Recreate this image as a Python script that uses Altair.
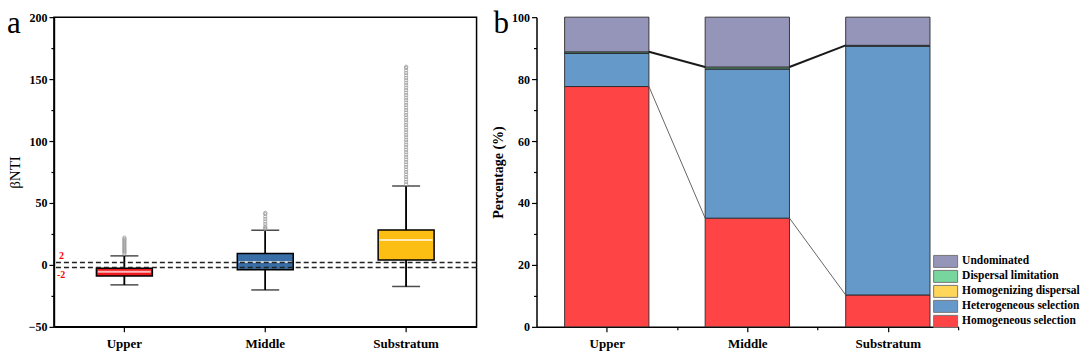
import altair as alt
import pandas as pd

FONT = "Liberation Serif"

# ---------------- Panel a : beta-NTI box plots ----------------
groups = ["Upper", "Middle", "Substratum"]
q1 = [-8.9, -4.0, 4.0]
median = [-5.6, 2.3, 20.2]
q3 = [-2.7, 9.2, 28.2]
whisker_low = [-16.1, -20.2, -17.4]
whisker_high = [7.3, 28.0, 63.7]
box_colors = ["#F01A1E", "#3A6EA6", "#FDBE14"]

outliers_upper = [9, 10, 11, 12, 13, 14, 15, 16, 17, 18, 19, 20, 21, 22]
outliers_middle = [29, 30, 31, 33, 35, 37, 39, 41, 42]
outliers_substratum = [65, 67, 69, 71, 73, 75, 77, 79, 81, 83, 85, 87, 89, 91, 93,
                       95, 97, 99, 101, 103, 105, 107, 109, 111, 113, 115, 117, 119,
                       121, 123, 125, 127, 129, 131, 133, 135, 137, 139, 141, 143,
                       145, 147, 149, 151, 153, 155, 157, 159, 160]

threshold_values = [2, -2]
threshold_labels = ["2", "-2"]

# ---------------- Panel b : stacked percentages ----------------
processes_stack = ["Homogeneous selection", "Heterogeneous selection",
                   "Homogenizing dispersal", "Dispersal limitation", "Undominated"]
homogeneous_selection = [77.6, 35.1, 10.3]
heterogeneous_selection = [10.8, 48.2, 80.4]
homogenizing_dispersal = [0.0, 0.0, 0.0]
dispersal_limitation = [0.4, 0.6, 0.2]
undominated = [11.2, 16.1, 9.1]
process_colors = {"Undominated": "#9594B9", "Dispersal limitation": "#76D69D",
                  "Homogenizing dispersal": "#FFD65A", "Heterogeneous selection": "#6599CA",
                  "Homogeneous selection": "#FF4446"}
legend_order = ["Undominated", "Dispersal limitation", "Homogenizing dispersal",
                "Heterogeneous selection", "Homogeneous selection"]

# ---------------- build tables ----------------
box_df = pd.DataFrame({"g": groups, "q1": q1, "med": median, "q3": q3,
                       "lo": whisker_low, "hi": whisker_high})
out_df = pd.DataFrame(
    [{"g": "Upper", "v": v} for v in outliers_upper]
    + [{"g": "Middle", "v": v} for v in outliers_middle]
    + [{"g": "Substratum", "v": v} for v in outliers_substratum])
thr_df = pd.DataFrame({"v": threshold_values, "t": threshold_labels})

series = [homogeneous_selection, heterogeneous_selection, homogenizing_dispersal,
          dispersal_limitation, undominated]
rows = []
cum_tables = []
for gi, g in enumerate(groups):
    base = 0.0
    cums = []
    for p, s in zip(processes_stack, series):
        rows.append({"g": g, "p": p, "x": gi + 0.2, "x2": gi + 0.8,
                     "y": base, "y2": base + s[gi]})
        base += s[gi]
        cums.append(base)
    cum_tables.append(cums)
stack_df = pd.DataFrame(rows)

conn_rows = []
for gi in range(len(groups) - 1):
    conn_rows.append({"x": gi + 0.8, "x2": gi + 1.2, "y": cum_tables[gi][0],
                      "y2": cum_tables[gi + 1][0], "k": "low"})
    conn_rows.append({"x": gi + 0.8, "x2": gi + 1.2, "y": cum_tables[gi][3],
                      "y2": cum_tables[gi + 1][3], "k": "top"})
conn_df = pd.DataFrame(conn_rows)

# ---------------- panel a ----------------
ya = alt.Scale(domain=[-50, 200], nice=False, zero=False)
xa = alt.X("g:N", sort=groups, scale=alt.Scale(paddingInner=0, paddingOuter=0),
           axis=alt.Axis(title=None, labelAngle=0, labelFont=FONT, labelFontWeight="bold",
                         labelFontSize=13, labelColor="black", tickColor="black",
                         domainColor="black", tickSize=5, tickWidth=1.2, labelPadding=6,
                         domainWidth=1.5))

main_axis_a = alt.Axis(title="βNTI", titleFont=FONT, titleFontWeight="normal", titleFontSize=15,
                       titleColor="black", labelFont=FONT, labelFontWeight="bold",
                       labelFontSize=12, labelColor="black", values=[-50, 0, 50, 100, 150, 200],
                       tickSize=5, tickWidth=1.2, tickColor="black", domainColor="black",
                       domainWidth=1.5, grid=False, orient="left", titlePadding=6)
minor_axis_a = alt.Axis(title=None, labels=False, values=[-25, 25, 75, 125, 175], tickSize=3,
                        tickWidth=1.2, tickColor="black", domain=False, grid=False, orient="left")

whisk = alt.Chart(box_df).mark_rule(color="black", strokeWidth=1.5).encode(
    x=xa, y=alt.Y("lo:Q", scale=ya, axis=main_axis_a), y2="hi:Q")
minor_a = alt.Chart(box_df).mark_rule(color="black", strokeWidth=1.5).encode(
    x=xa, y=alt.Y("lo:Q", scale=ya, axis=minor_axis_a), y2="hi:Q")
cap_lo = alt.Chart(box_df).mark_tick(size=28, thickness=1.5, color="black").encode(
    x=xa, y=alt.Y("lo:Q", scale=ya, axis=None))
cap_hi = alt.Chart(box_df).mark_tick(size=28, thickness=1.5, color="black").encode(
    x=xa, y=alt.Y("hi:Q", scale=ya, axis=None))
boxes = alt.Chart(box_df).mark_bar(size=56, stroke="black", strokeWidth=1.5).encode(
    x=xa, y=alt.Y("q1:Q", scale=ya, axis=None), y2="q3:Q",
    color=alt.Color("g:N", scale=alt.Scale(domain=groups, range=box_colors), legend=None))
meds = alt.Chart(box_df).mark_tick(size=53, thickness=2, color="white").encode(
    x=xa, y=alt.Y("med:Q", scale=ya, axis=None))
outs = alt.Chart(out_df).mark_point(shape="circle", size=11, filled=False, color="#9a9a9a",
                                    strokeWidth=0.8, opacity=1).encode(
    x=xa, y=alt.Y("v:Q", scale=ya, axis=None))
thr = alt.Chart(thr_df).mark_rule(color="#222", strokeWidth=1.5, strokeDash=[5, 3]).encode(
    y=alt.Y("v:Q", scale=ya, axis=None))
thr_txt_hi = alt.Chart(thr_df).transform_filter("datum.v > 0").mark_text(
    font=FONT, fontWeight="bold", fontSize=10, color="red", align="left", dy=-6).encode(
    x=alt.value(5), y=alt.Y("v:Q", scale=ya, axis=None), text="t:N")
thr_txt_lo = alt.Chart(thr_df).transform_filter("datum.v < 0").mark_text(
    font=FONT, fontWeight="bold", fontSize=10, color="red", align="left", dy=8).encode(
    x=alt.value(3), y=alt.Y("v:Q", scale=ya, axis=None), text="t:N")
letter_a = alt.Chart(box_df).transform_filter("datum.g == 'Upper'").mark_text(
    text="a", font=FONT, fontSize=31, align="left", baseline="alphabetic",
    color="black").encode(x=alt.value(-47), y=alt.value(16))

panel_a = alt.layer(whisk, minor_a, cap_lo, cap_hi, boxes, meds, outs, thr, thr_txt_hi,
                    thr_txt_lo, letter_a).resolve_axis(y="independent").properties(
    width=423, height=310, view=alt.ViewBackground(stroke="black", strokeWidth=1.5))

# ---------------- panel b ----------------
xb = alt.Scale(domain=[0, 3], nice=False, zero=False)
yb = alt.Scale(domain=[0, 100], nice=False)
label_expr = " : ".join(
    [f"datum.value == {i + 0.5} ? '{g}'" for i, g in enumerate(groups[:-1])] + [f"'{groups[-1]}'"])
main_axis_bx = alt.Axis(title=None, values=[0.5, 1.5, 2.5], labelExpr=label_expr, labelFont=FONT,
                        labelFontWeight="bold", labelFontSize=13, labelColor="black",
                        tickSize=5, tickWidth=1.2, tickColor="black", domainColor="black",
                        domainWidth=1.5, grid=False, labelPadding=6, orient="bottom",
                        labelFlush=False)
minor_axis_bx = alt.Axis(title=None, values=[1, 2, 3], labels=False, tickSize=3, tickWidth=1.2,
                         tickColor="black", domain=False, grid=False, orient="bottom")
main_axis_by = alt.Axis(title="Percentage (%)", titleFont=FONT, titleFontWeight="bold",
                        titleFontSize=14, titleColor="black", labelFont=FONT,
                        labelFontWeight="bold", labelFontSize=12, labelColor="black",
                        values=[0, 20, 40, 60, 80, 100], tickSize=5, tickWidth=1.2,
                        tickColor="black", domainColor="black", domainWidth=1.5, grid=False,
                        orient="left", titlePadding=6)
minor_axis_by = alt.Axis(title=None, labels=False, values=[10, 30, 50, 70, 90], tickSize=3,
                         tickWidth=1.2, tickColor="black", domain=False, grid=False,
                         orient="left")

bars = alt.Chart(stack_df).mark_rect(stroke="#2a2a2a", strokeWidth=0.9).encode(
    x=alt.X("x:Q", scale=xb, axis=main_axis_bx), x2="x2:Q",
    y=alt.Y("y:Q", scale=yb, axis=main_axis_by), y2="y2:Q",
    color=alt.Color("p:N", scale=alt.Scale(domain=legend_order,
                                           range=[process_colors[p] for p in legend_order]),
                    legend=alt.Legend(title=None, orient="none", legendX=403, legendY=238,
                                      labelFont=FONT, labelFontWeight="bold", labelFontSize=11.5,
                                      labelColor="black",
                                      symbolType="M-2,-1L2,-1L2,1L-2,1Z",
                                      symbolSize=144, symbolStrokeColor="#777",
                                      symbolStrokeWidth=1, symbolOpacity=1, rowPadding=-3,
                                      labelOffset=10)))
minor_b = alt.Chart(stack_df).mark_rect(opacity=0).encode(
    x=alt.X("x:Q", scale=xb, axis=minor_axis_bx), x2="x2:Q",
    y=alt.Y("y:Q", scale=yb, axis=minor_axis_by), y2="y2:Q")
conn_low = alt.Chart(conn_df).transform_filter("datum.k == 'low'").mark_rule(
    color="#555", strokeWidth=0.9).encode(
    x=alt.X("x:Q", scale=xb, axis=None), x2="x2:Q",
    y=alt.Y("y:Q", scale=yb, axis=None), y2="y2:Q")
conn_top = alt.Chart(conn_df).transform_filter("datum.k == 'top'").mark_rule(
    color="#1a1a1a", strokeWidth=2).encode(
    x=alt.X("x:Q", scale=xb, axis=None), x2="x2:Q",
    y=alt.Y("y:Q", scale=yb, axis=None), y2="y2:Q")
letter_b = alt.Chart(box_df).transform_filter("datum.g == 'Upper'").mark_text(
    text="b", font=FONT, fontSize=31, align="left", baseline="alphabetic",
    color="black").encode(x=alt.value(-43), y=alt.value(16))

panel_b = alt.layer(bars, minor_b, conn_low, conn_top, letter_b).resolve_axis(
    x="independent", y="independent").properties(
    width=422, height=310, view=alt.ViewBackground(strokeWidth=0))

chart = alt.hconcat(panel_a, panel_b, spacing=13).resolve_scale(
    color="independent", x="independent", y="independent").properties(
    padding={"left": 6, "top": 7, "right": 0, "bottom": 0},
    background="white")

chart.save("out.html", embed_options={"renderer": "svg", "actions": False})
